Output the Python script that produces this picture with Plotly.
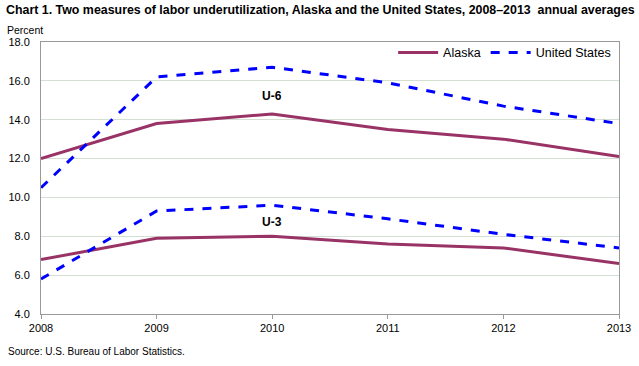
import plotly.graph_objects as go

years = [2008, 2009, 2010, 2011, 2012, 2013]
alaska_u6 = [12.0, 13.8, 14.3, 13.5, 13.0, 12.1]
us_u6 = [10.5, 16.2, 16.7, 15.9, 14.7, 13.8]
alaska_u3 = [6.8, 7.9, 8.0, 7.6, 7.4, 6.6]
us_u3 = [5.8, 9.3, 9.6, 8.9, 8.1, 7.4]
y_ticks = [4, 6, 8, 10, 12, 14, 16, 18]
y_tick_labels = ["4.0", "6.0", "8.0", "10.0", "12.0", "14.0", "16.0", "18.0"]

AK = "#993366"
US = "#0000FF"
FONT = "Liberation Sans"

fig = go.Figure()
fig.add_trace(go.Scatter(x=years, y=alaska_u6, mode="lines", name="Alaska",
                         line=dict(color=AK, width=3), legendgroup="ak"))
fig.add_trace(go.Scatter(x=years, y=us_u6, mode="lines", name="United States",
                         line=dict(color=US, width=3, dash="dash"), legendgroup="us"))
fig.add_trace(go.Scatter(x=years, y=alaska_u3, mode="lines", name="Alaska",
                         line=dict(color=AK, width=3), legendgroup="ak", showlegend=False))
fig.add_trace(go.Scatter(x=years, y=us_u3, mode="lines", name="United States",
                         line=dict(color=US, width=3, dash="dash"), legendgroup="us", showlegend=False))

fig.add_annotation(x=2010, y=15.2, text="<b>U-6</b>", showarrow=False,
                   font=dict(family=FONT, size=12, color="black"))
fig.add_annotation(x=2010, y=8.75, text="<b>U-3</b>", showarrow=False,
                   font=dict(family=FONT, size=12, color="black"))

fig.update_layout(
    width=639, height=366,
    margin=dict(l=41, r=20, t=42, b=52, autoexpand=False),
    paper_bgcolor="white", plot_bgcolor="white",
    font=dict(family=FONT, size=11, color="black"),
    showlegend=True,
    legend=dict(orientation="h", x=0.995, xanchor="right", y=1.015, yanchor="top",
                bgcolor="rgba(0,0,0,0)", font=dict(family=FONT, size=12.5, color="black"),
                itemwidth=40, tracegroupgap=0),
    xaxis=dict(range=[2008, 2013], tickvals=years, ticktext=[str(y) for y in years],
               showgrid=False, showline=True, linecolor="#999999", linewidth=1,
               ticks="outside", ticklen=4, tickcolor="#999999", mirror=True,
               tickfont=dict(family=FONT, size=11), zeroline=False, automargin=False),
    yaxis=dict(range=[4, 18], tickvals=y_ticks, ticktext=y_tick_labels,
               showgrid=True, gridcolor="#d4dfd4", gridwidth=1,
               showline=True, linecolor="#999999", linewidth=1, mirror=True,
               ticks="", ticklabelstandoff=8,
               tickfont=dict(family=FONT, size=11), zeroline=False, automargin=False),
)

fig.add_annotation(text="<b>Chart 1. Two measures of labor underutilization, Alaska and the United States, 2008\u20132013  annual averages</b>",
                   xref="paper", yref="paper", x=-37/578, y=1 + 32/272, xanchor="left", yanchor="middle",
                   showarrow=False, font=dict(family=FONT, size=12.4, color="black"))
fig.add_annotation(text="Percent", xref="paper", yref="paper", x=-36/578, y=1 + 12/272,
                   xanchor="left", yanchor="middle", showarrow=False,
                   font=dict(family=FONT, size=10.5, color="black"))
fig.add_annotation(text="Source: U.S. Bureau of Labor Statistics.", xref="paper", yref="paper",
                   x=-35/578, y=-37/272, xanchor="left", yanchor="middle", showarrow=False,
                   font=dict(family=FONT, size=10, color="black"))

fig.write_html("out.html", config={"displayModeBar": False},
               post_script="document.body.style.margin='0';document.body.style.overflow='hidden';")
